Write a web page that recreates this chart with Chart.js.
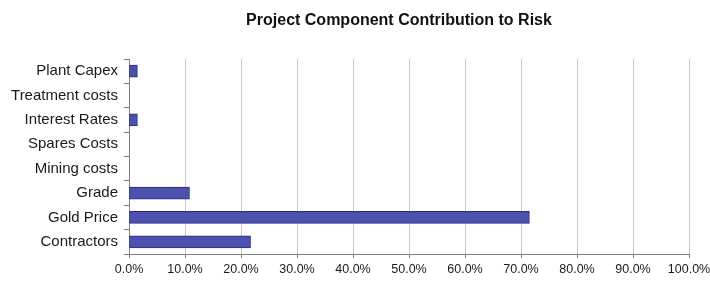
<!DOCTYPE html>
<html>
<head>
<meta charset="utf-8">
<script src="https://cdn.jsdelivr.net/npm/chart.js@4"></script>
<style>
  html, body { margin: 0; padding: 0; background: #fff; }
</style>
</head>
<body>
<canvas id="riskChart" width="710" height="282"></canvas>
<script>
// donnees du graphique
const components = ['Plant Capex', 'Treatment costs', 'Interest Rates', 'Spares Costs', 'Mining costs', 'Grade', 'Gold Price', 'Contractors'];
const contribution = [1.5, 0, 1.5, 0, 0, 10.8, 71.5, 21.7];
const xTicks = [0, 10, 20, 30, 40, 50, 60, 70, 80, 90, 100];

// titre dessine a la main pour le placer comme dans l'original
const titlePlugin = {
    id: 'titrePerso',
    afterDraw(chart) {
        const ctx = chart.ctx;
        ctx.save();
        ctx.font = 'bold 16px "Liberation Sans", Arial, sans-serif';
        ctx.fillStyle = '#111';
        ctx.textAlign = 'center';
        ctx.textBaseline = 'middle';
        ctx.fillText('Project Component Contribution to Risk', 399, 21);
        ctx.restore();
    }
};

const ctx = document.getElementById('riskChart').getContext('2d');
const riskChart = new Chart(ctx, {
    type: 'bar',
    data: {
        labels: components,
        datasets: [{
            data: contribution,
            backgroundColor: '#4c51b0',
            borderColor: '#262a78',
            borderWidth: 1,
            borderSkipped: false,
            barThickness: 12
        }]
    },
    options: {
        indexAxis: 'y',
        responsive: false,
        animation: false,
        layout: {
            padding: { top: 59, right: 21, bottom: 0, left: 0 }
        },
        plugins: {
            legend: { display: false },
            tooltip: { enabled: false }
        },
        scales: {
            x: {
                min: 0,
                max: 100,
                afterBuildTicks: function(scale) {
                    scale.ticks = xTicks.map(v => ({ value: v }));
                },
                afterFit: function(scale) {
                    scale.height = 28;
                    // le dernier libelle deborde comme dans l'original
                    scale.paddingRight = 0;
                },
                grid: {
                    color: '#c9c9c9',
                    tickColor: '#808080',
                    tickLength: 4
                },
                border: { color: '#808080' },
                ticks: {
                    color: '#1a1a1a',
                    font: { family: '"Liberation Sans", Arial, sans-serif', size: 12.5 },
                    padding: 4,
                    maxRotation: 0,
                    callback: v => v.toFixed(1) + '%'
                }
            },
            y: {
                offset: true,
                afterFit: function(scale) {
                    scale.width = 129;
                },
                grid: {
                    offset: true,
                    drawOnChartArea: false,
                    tickColor: '#808080',
                    tickLength: 5
                },
                border: { color: '#808080' },
                ticks: {
                    color: '#1a1a1a',
                    font: { family: '"Liberation Sans", Arial, sans-serif', size: 15 },
                    padding: 6
                }
            }
        }
    },
    plugins: [titlePlugin]
});
</script>
</body>
</html>
